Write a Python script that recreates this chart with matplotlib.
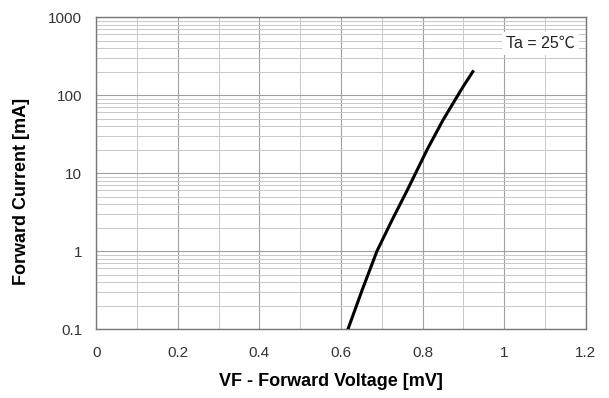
import numpy as np
import matplotlib.pyplot as plt
from matplotlib.ticker import FixedLocator, LogLocator, NullFormatter

plt.rcParams['font.family'] = ['Liberation Sans', 'DejaVu Sans']

# Curve (Ta = 25 C)
vf = [0.617, 0.652, 0.688, 0.725, 0.762, 0.811, 0.850, 0.884, 0.899, 0.923]
i_f = [0.1, 0.32, 1.0, 2.5, 6.0, 20, 48, 95, 128, 200]

x_ticks = [0, 0.2, 0.4, 0.6, 0.8, 1.0, 1.2]
x_labels = ['0', '0.2', '0.4', '0.6', '0.8', '1', '1.2']
y_ticks = [0.1, 1, 10, 100, 1000]
y_labels = ['0.1', '1', '10', '100', '1000']

fig = plt.figure(figsize=(6.09, 3.98), dpi=100)
ax = fig.add_axes([0.158, 0.173, 0.804, 0.784])

ax.set_yscale('log')
ax.set_xlim(0, 1.2)
ax.set_ylim(0.1, 1000)

ax.set_xticks(x_ticks)
ax.set_xticklabels(x_labels)
ax.set_yticks(y_ticks)
ax.set_yticklabels(y_labels)
ax.yaxis.set_minor_locator(LogLocator(base=10, subs=np.arange(2, 10)))
ax.yaxis.set_minor_formatter(NullFormatter())
ax.xaxis.set_minor_locator(FixedLocator(np.arange(0.1, 1.2, 0.1)))

ax.grid(True, which='major', axis='both', color='#a0a0a0', lw=0.8)
ax.grid(True, which='minor', axis='both', color='#c8c8c8', lw=0.7)
ax.tick_params(which='both', length=0, labelsize=11, colors='#333333')
ax.tick_params(axis='x', pad=12)
ax.tick_params(axis='y', pad=10)

for s in ax.spines.values():
    s.set_color('#777777')
    s.set_linewidth(1.0)

ax.plot(vf, i_f, color='black', lw=2.2, zorder=3)

ax.text(1.172, 460, 'Ta = 25℃', fontsize=11.5, ha='right', va='center',
        color='#222222', family=['Liberation Sans', 'Noto Sans CJK JP'],
        bbox=dict(facecolor='white', edgecolor='none', pad=3), zorder=4)

ax.set_xlabel('VF - Forward Voltage [mV]', fontsize=13, fontweight='bold')
ax.set_ylabel('Forward Current [mA]', fontsize=13, fontweight='bold')
ax.xaxis.set_label_coords(0.48, -0.14)
ax.yaxis.set_label_coords(-0.135, 0.44)

fig.savefig('out.png', dpi=100)
